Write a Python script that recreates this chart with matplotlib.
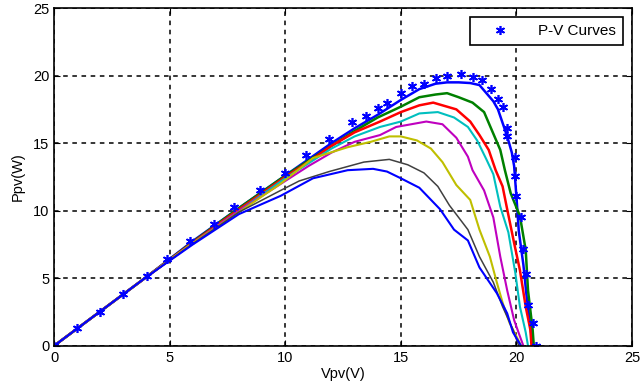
import numpy as np
import matplotlib
matplotlib.use('Agg')
import matplotlib.pyplot as plt

plt.rcParams['font.family'] = ['Liberation Sans', 'DejaVu Sans']

# P-V curves (voltage V, power W)
v_b1 = [0, 2, 4, 6, 8, 10, 11, 12, 13, 14, 15, 15.8, 16.5, 17, 17.5, 18, 18.4, 18.7, 19.0, 19.2, 19.4, 19.6, 19.8, 19.9, 20.0, 20.1, 20.3, 20.45, 20.6, 20.7]
p_b1 = [0, 2.55, 5.1, 7.75, 10.2, 12.6, 13.8, 15.0, 16.1, 17.1, 18.2, 19.0, 19.4, 19.5, 19.5, 19.45, 19.3, 18.7, 18.1, 17.5, 16.5, 15.5, 14.3, 13.3, 11.0, 8.5, 6.0, 3.5, 1.5, 0]

v_g = [0, 2, 4, 6, 8, 10, 11, 12, 13, 14, 15, 15.8, 16.5, 17, 17.5, 18.1, 18.6, 19.0, 19.3, 19.5, 19.75, 20.15, 20.4, 20.5, 20.7, 20.75]
p_g = [0, 2.55, 5.1, 7.7, 10.2, 12.6, 13.7, 14.8, 15.9, 16.9, 17.7, 18.4, 18.6, 18.7, 18.4, 18.0, 17.3, 15.7, 14.5, 13.0, 11.3, 9.6, 7.1, 4.1, 1.2, 0]

v_r = [0, 2, 4, 6, 8, 10, 11, 12, 13, 14.1, 15, 15.8, 16.4, 17, 17.4, 18, 18.4, 18.8, 19.1, 19.4, 19.6, 19.9, 20.15, 20.4, 20.6, 20.65]
p_r = [0, 2.55, 5.1, 7.65, 10.1, 12.5, 13.6, 14.8, 15.8, 16.6, 17.3, 17.8, 18.0, 17.7, 17.5, 16.6, 15.6, 14.5, 13.0, 11.8, 10.1, 7.6, 5.6, 2.9, 1.2, 0]

v_c = [0, 2, 4, 6, 8, 10, 11, 12, 13, 14.1, 15, 15.8, 16.6, 17.3, 17.9, 18.3, 18.7, 19.0, 19.3, 19.65, 19.95, 20.15, 20.4, 20.5]
p_c = [0, 2.55, 5.1, 7.6, 10.0, 12.4, 13.5, 14.6, 15.5, 16.2, 16.6, 17.2, 17.3, 16.9, 16.2, 15.2, 13.8, 12.7, 10.3, 8.4, 5.4, 2.9, 1.0, 0]

v_m = [0, 2, 4, 6, 8, 10, 11, 12, 13, 14.1, 14.8, 16.1, 16.8, 17.4, 17.9, 18.1, 18.6, 19.0, 19.3, 19.6, 19.9, 20.15, 20.3]
p_m = [0, 2.55, 5.1, 7.6, 10.0, 12.2, 13.3, 14.3, 15.1, 15.6, 16.2, 16.6, 16.4, 15.4, 14.0, 13.0, 11.5, 9.5, 6.6, 4.1, 1.9, 0.7, 0]

v_y = [0, 2, 4, 6, 8, 9.8, 11.2, 12.7, 13.7, 14.5, 15.0, 15.7, 16.3, 16.8, 17.4, 18.0, 18.4, 18.85, 19.15, 19.4, 19.7, 20.0, 20.2]
p_y = [0, 2.55, 5.1, 7.6, 9.9, 12.0, 13.9, 14.7, 15.1, 15.5, 15.5, 15.2, 14.6, 13.6, 11.9, 10.8, 8.6, 6.6, 4.7, 3.2, 1.7, 0.7, 0]

v_k = [0, 2, 4, 6, 8, 9.8, 10.6, 11.9, 13.4, 14.5, 15.3, 16.0, 16.6, 17.1, 17.9, 18.4, 19.0, 19.4, 19.85, 20.1]
p_k = [0, 2.55, 5.1, 7.55, 9.9, 11.5, 12.2, 12.9, 13.6, 13.8, 13.4, 12.8, 11.8, 10.4, 8.6, 6.6, 4.7, 2.9, 1.2, 0]

v_b2 = [0, 2, 4, 6, 8, 9.8, 11.2, 12.7, 13.8, 14.4, 15.0, 15.8, 16.7, 17.3, 17.9, 18.4, 19.15, 19.6, 19.85, 20.2]
p_b2 = [0, 2.55, 5.1, 7.5, 9.75, 11.1, 12.4, 13.0, 13.1, 12.9, 12.4, 11.7, 10.1, 8.6, 7.8, 5.8, 3.9, 2.4, 1.0, 0]

# star-marked curve
v_star = [0, 1, 2, 3, 4, 4.9, 5.9, 6.9, 7.8, 8.9, 10.0, 10.9, 11.9, 12.9, 13.5, 14.0, 14.4, 15.0, 15.5, 16.0, 16.5, 17.0, 17.6, 18.1, 18.5, 18.9, 19.2, 19.4, 19.6, 19.6, 19.95, 19.95, 20.0, 20.2, 20.3, 20.4, 20.5, 20.7, 20.85]
p_star = [0, 1.3, 2.5, 3.85, 5.2, 6.45, 7.75, 9.0, 10.3, 11.5, 12.8, 14.1, 15.3, 16.6, 17.0, 17.6, 18.0, 18.7, 19.2, 19.4, 19.8, 20.0, 20.1, 19.9, 19.7, 19.0, 18.3, 17.7, 16.1, 15.5, 14.0, 12.6, 11.1, 9.5, 7.2, 5.3, 3.0, 1.7, 0]

curves = [(v_b1, p_b1, (0, 0, 1), 1.8),
          (v_g, p_g, (0, 0.5, 0), 1.8),
          (v_r, p_r, (1, 0, 0), 1.8),
          (v_c, p_c, (0, 0.75, 0.75), 1.5),
          (v_m, p_m, (0.75, 0, 0.75), 1.5),
          (v_y, p_y, (0.75, 0.75, 0), 1.5),
          (v_k, p_k, (0.25, 0.25, 0.25), 1.1),
          (v_b2, p_b2, (0, 0, 1), 1.5)]

fig = plt.figure(figsize=(6.43, 3.83), dpi=100)
ax = fig.add_axes([0.084, 0.097, 0.899, 0.882])

for v, p, col, lw in curves:
    ax.plot(v, p, color=col, linewidth=lw)

ax.plot(v_star, p_star, linestyle='none', marker=(6, 2, 0), markersize=6.5,
        markeredgewidth=1.2, color=(0, 0, 1), label='P-V Curves')

ax.set_xlim(0, 25)
ax.set_ylim(0, 25)
ax.set_xticks(np.arange(0, 26, 5))
ax.set_yticks(np.arange(0, 26, 5))
ax.tick_params(direction='in', length=4, labelsize=10.5, colors='black', top=True, right=True,
               labeltop=False, labelright=False)
ax.grid(True, color='black', linestyle=(0, (3, 3)), linewidth=1.1)
for s in ax.spines.values():
    s.set_linewidth(1.2)

ax.set_xlabel('Vpv(V)', fontsize=10.5, labelpad=2)
ax.set_ylabel('Ppv(W)', fontsize=10.5, labelpad=6)

leg = ax.legend(loc='upper right', fancybox=False, edgecolor='black', framealpha=1,
                fontsize=11, borderpad=0.45, handlelength=3, handletextpad=1.0,
                borderaxespad=0.6)
leg.get_frame().set_linewidth(1.2)

fig.savefig('out.png', dpi=100)
